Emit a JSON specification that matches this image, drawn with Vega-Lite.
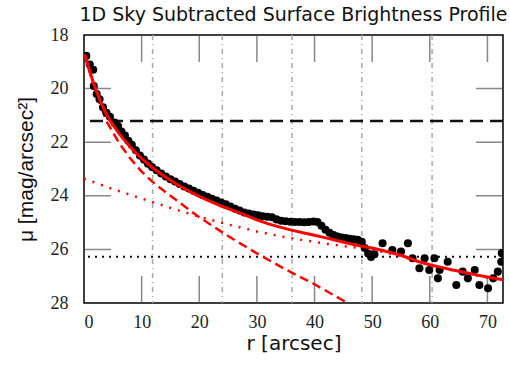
{
  "$schema": "https://vega.github.io/schema/vega-lite/v6.json",
  "autosize": "none",
  "width": 419,
  "height": 268,
  "padding": {"left": 84, "top": 35, "right": 7, "bottom": 69},
  "background": "white",
  "config": {
    "view": {"stroke": "black", "strokeWidth": 1.5},
    "axis": {"grid": false, "domain": false, "ticks": false,
      "labelFont": "Liberation Serif", "labelFontSize": 18, "labelColor": "#222",
      "titleFont": "DejaVu Sans", "titleFontSize": 20, "titleFontWeight": "normal", "titleColor": "#111"}
  },
  "title": {"text": "1D Sky Subtracted Surface Brightness Profile", "font": "DejaVu Sans", "fontSize": 19, "fontWeight": "normal", "color": "#111", "anchor": "middle", "offset": 1},
  "datasets": {
    "pts": [
      {"r":0.4,"mu":18.78},{"r":1.0,"mu":19.1},{"r":1.6,"mu":19.3},{"r":1.7,"mu":19.9},{"r":2.2,"mu":20.2},{"r":2.7,"mu":20.4},{"r":3.3,"mu":20.7},{"r":3.9,"mu":20.9},{"r":4.5,"mu":21.05},{"r":5.3,"mu":21.27},{"r":5.9,"mu":21.4},{"r":6.5,"mu":21.6},{"r":7.1,"mu":21.75},{"r":7.7,"mu":21.95},{"r":8.3,"mu":22.1},{"r":9.0,"mu":22.3},{"r":9.7,"mu":22.5},{"r":10.4,"mu":22.65},{"r":11.1,"mu":22.8},{"r":11.8,"mu":22.93},{"r":12.6,"mu":23.05},{"r":13.4,"mu":23.17},{"r":14.2,"mu":23.28},{"r":15.0,"mu":23.38},{"r":15.8,"mu":23.47},{"r":16.6,"mu":23.56},{"r":17.4,"mu":23.65},{"r":18.2,"mu":23.73},{"r":19.0,"mu":23.81},{"r":19.8,"mu":23.89},{"r":20.6,"mu":23.97},{"r":21.4,"mu":24.04},{"r":22.2,"mu":24.11},{"r":23.0,"mu":24.18},{"r":23.8,"mu":24.25},{"r":24.6,"mu":24.32},{"r":25.4,"mu":24.4},{"r":26.2,"mu":24.48},{"r":27.0,"mu":24.55},{"r":27.8,"mu":24.62},{"r":28.6,"mu":24.66},{"r":29.4,"mu":24.7},{"r":30.2,"mu":24.73},{"r":31.0,"mu":24.76},{"r":31.8,"mu":24.78},{"r":32.6,"mu":24.8},{"r":33.4,"mu":24.88},{"r":34.2,"mu":24.93},{"r":35.0,"mu":24.95},{"r":35.8,"mu":24.97},{"r":36.6,"mu":24.98},{"r":37.4,"mu":24.98},{"r":38.2,"mu":24.99},{"r":39.0,"mu":24.98},{"r":39.8,"mu":24.96},{"r":40.5,"mu":24.98},{"r":41.2,"mu":25.12},{"r":41.9,"mu":25.27},{"r":42.6,"mu":25.38},{"r":43.3,"mu":25.46},{"r":44.0,"mu":25.52},{"r":44.7,"mu":25.56},{"r":45.4,"mu":25.58},{"r":46.1,"mu":25.6},{"r":46.8,"mu":25.62},{"r":47.5,"mu":25.64},{"r":48.2,"mu":25.72},{"r":48.7,"mu":25.95},
      {"r":49.3,"mu":26.15},{"r":49.8,"mu":26.28},{"r":50.4,"mu":26.18},{"r":51.8,"mu":25.77},{"r":53.5,"mu":26.02},{"r":55.0,"mu":26.08},{"r":56.2,"mu":25.77},{"r":57.0,"mu":26.33},{"r":58.2,"mu":26.7},{"r":59.1,"mu":26.33},{"r":59.9,"mu":26.77},{"r":60.8,"mu":26.33},{"r":61.4,"mu":27.08},{"r":61.7,"mu":26.77},{"r":63.1,"mu":26.46},{"r":64.6,"mu":27.33},{"r":65.7,"mu":26.83},{"r":66.6,"mu":27.08},{"r":67.8,"mu":26.77},{"r":68.6,"mu":27.33},{"r":70.1,"mu":27.45},{"r":71.0,"mu":27.08},{"r":71.8,"mu":26.83},{"r":72.4,"mu":26.46},{"r":72.5,"mu":26.14}
    ],
    "total": [
      {"r":0.1,"mu":18.72},{"r":0.5,"mu":19.0},{"r":1,"mu":19.35},{"r":1.5,"mu":19.7},{"r":2,"mu":20.0},{"r":3,"mu":20.55},{"r":4,"mu":21.0},{"r":5,"mu":21.35},{"r":6,"mu":21.65},{"r":7,"mu":21.92},{"r":8,"mu":22.17},{"r":9,"mu":22.4},{"r":10,"mu":22.6},{"r":12,"mu":22.97},{"r":14,"mu":23.28},{"r":16,"mu":23.56},{"r":18,"mu":23.8},{"r":20,"mu":24.02},{"r":22,"mu":24.22},{"r":24,"mu":24.4},{"r":26,"mu":24.55},{"r":28,"mu":24.72},{"r":30,"mu":24.9},{"r":32,"mu":25.05},{"r":34,"mu":25.17},{"r":36,"mu":25.28},{"r":38,"mu":25.38},{"r":40,"mu":25.47},{"r":42,"mu":25.57},{"r":44,"mu":25.68},{"r":46,"mu":25.78},{"r":48,"mu":25.87},{"r":50,"mu":25.95},{"r":52,"mu":26.05},{"r":55,"mu":26.22},{"r":58,"mu":26.45},{"r":60,"mu":26.57},{"r":62,"mu":26.67},{"r":64,"mu":26.77},{"r":66,"mu":26.85},{"r":68,"mu":26.95},{"r":70,"mu":27.03},{"r":72.7,"mu":27.13}
    ],
    "bulge": [
      {"r":0.1,"mu":18.75},{"r":1,"mu":19.4},{"r":2,"mu":20.1},{"r":3,"mu":20.7},{"r":4,"mu":21.25},{"r":6,"mu":22.0},{"r":8,"mu":22.6},{"r":10,"mu":23.1},{"r":12,"mu":23.5},{"r":15,"mu":24.0},{"r":20,"mu":24.8},{"r":25,"mu":25.5},{"r":30,"mu":26.15},{"r":35,"mu":26.75},{"r":40,"mu":27.3},{"r":44.5,"mu":27.85},{"r":46.5,"mu":28.1}
    ],
    "disk": [
      {"r":0,"mu":23.36},{"r":5,"mu":23.75},{"r":10,"mu":24.1},{"r":15,"mu":24.45},{"r":20,"mu":24.78},{"r":25,"mu":25.07},{"r":30,"mu":25.33},{"r":35,"mu":25.55},{"r":40,"mu":25.72},{"r":45,"mu":25.88},{"r":50,"mu":26.0},{"r":55,"mu":26.25},{"r":60,"mu":26.6},{"r":65,"mu":26.83},{"r":70,"mu":27.05},{"r":72.7,"mu":27.15}
    ],
    "vlines": [{"r":11.9},{"r":24.0},{"r":36.1},{"r":48.2},{"r":60.4}],
    "xt": [{"r":10,"edge":28},{"r":20,"edge":28},{"r":30,"edge":28},{"r":40,"edge":28},{"r":50,"edge":28},{"r":60,"edge":28},{"r":70,"edge":28},
           {"r":10,"edge":18},{"r":20,"edge":18},{"r":30,"edge":18},{"r":40,"edge":18},{"r":50,"edge":18},{"r":60,"edge":18},{"r":70,"edge":18}],
    "yt": [{"mu":20,"edge":0},{"mu":22,"edge":0},{"mu":24,"edge":0},{"mu":26,"edge":0},
           {"mu":20,"edge":72.7},{"mu":22,"edge":72.7},{"mu":24,"edge":72.7},{"mu":26,"edge":72.7}],
    "sky": [{"mu":21.21}],
    "skylim": [{"mu":26.27}]
  },
  "layer": [
    {
      "data": {"name": "xt"},
      "mark": {"type": "tick", "orient": "vertical", "color": "#555", "size": 54, "thickness": 1.5, "clip": true},
      "encoding": {"x": {"field": "r", "type": "quantitative", "scale": {"domain": [0, 72.7], "nice": false, "zero": false}}, "y": {"field": "edge", "type": "quantitative", "scale": {"domain": [18, 28], "nice": false, "zero": false, "reverse": true}}}
    },
    {
      "data": {"name": "yt"},
      "mark": {"type": "tick", "orient": "horizontal", "color": "#555", "size": 54, "thickness": 1.5, "clip": true},
      "encoding": {"x": {"field": "edge", "type": "quantitative"}, "y": {"field": "mu", "type": "quantitative"}}
    },
    {
      "data": {"name": "vlines"},
      "mark": {"type": "rule", "color": "#a8a8a8", "strokeWidth": 1.5, "strokeDash": [5, 4, 1, 4]},
      "encoding": {"x": {"field": "r", "type": "quantitative"}}
    },
    {
      "data": {"name": "sky"},
      "mark": {"type": "rule", "color": "#111", "strokeWidth": 2.5, "strokeDash": [13, 7]},
      "encoding": {"y": {"field": "mu", "type": "quantitative"}}
    },
    {
      "data": {"name": "skylim"},
      "mark": {"type": "rule", "color": "#111", "strokeWidth": 2, "strokeDash": [2, 5]},
      "encoding": {"y": {"field": "mu", "type": "quantitative"}}
    },
    {
      "data": {"name": "bulge"},
      "mark": {"type": "line", "color": "#f00", "strokeWidth": 2.5, "strokeDash": [9, 5], "clip": true},
      "encoding": {
        "x": {"field": "r", "type": "quantitative"},
        "y": {"field": "mu", "type": "quantitative"}
      }
    },
    {
      "data": {"name": "disk"},
      "mark": {"type": "line", "color": "#f00", "strokeWidth": 2.5, "strokeDash": [2, 7], "clip": true},
      "encoding": {
        "x": {"field": "r", "type": "quantitative"},
        "y": {"field": "mu", "type": "quantitative"}
      }
    },
    {
      "data": {"name": "pts"},
      "mark": {"type": "point", "shape": "circle", "filled": true, "color": "black", "size": 65, "opacity": 1, "clip": true},
      "encoding": {
        "x": {"field": "r", "type": "quantitative",
          "axis": {"orient": "bottom", "values": [0,10,20,30,40,50,60,70], "labelPadding": 10, "title": "r [arcsec]", "titlePadding": 2}},
        "y": {"field": "mu", "type": "quantitative",
          "axis": {"orient": "left", "values": [18,20,22,24,26,28], "labelPadding": 16, "title": "μ [mag/arcsec²]", "titleFont": "Liberation Sans", "titleFontSize": 21, "titlePadding": 14}}
      }
    },
    {
      "data": {"name": "total"},
      "mark": {"type": "line", "color": "#f00", "strokeWidth": 3, "clip": true},
      "encoding": {
        "x": {"field": "r", "type": "quantitative"},
        "y": {"field": "mu", "type": "quantitative"}
      }
    }
  ]
}
